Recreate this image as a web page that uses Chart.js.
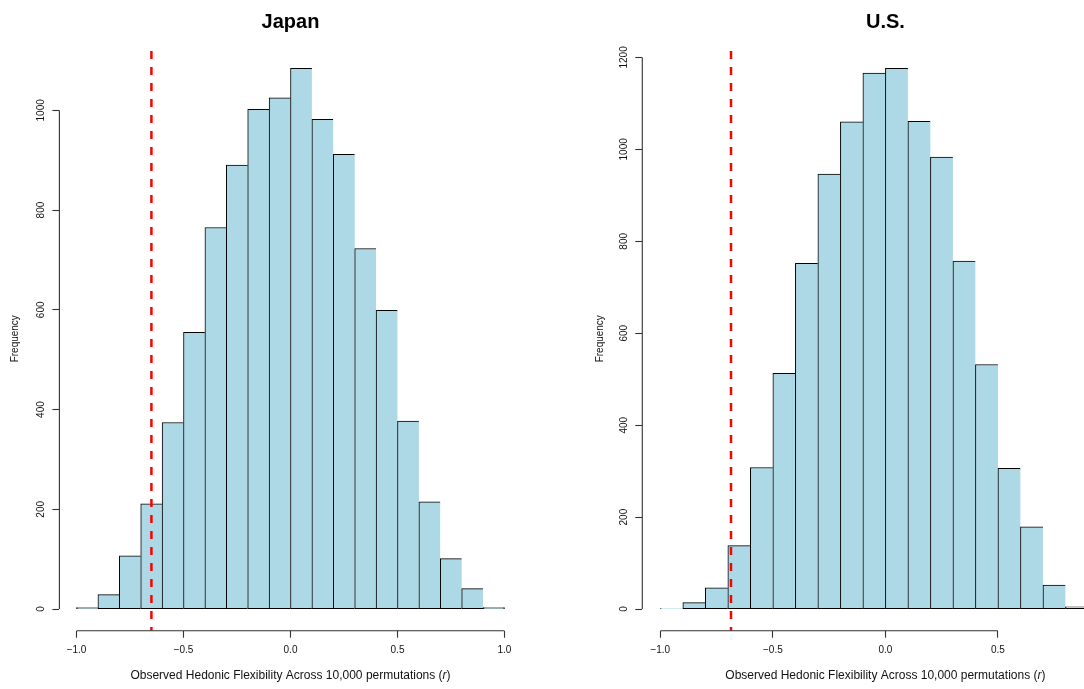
<!DOCTYPE html>
<html>
<head>
<meta charset="utf-8">
<script src="https://cdn.jsdelivr.net/npm/chart.js@4.4.1/dist/chart.umd.min.js"></script>
<style>
  html, body { margin: 0; padding: 0; width: 1084px; height: 689px; overflow: hidden; background: #ffffff; }
  .panel { position: absolute; top: 0; }
  canvas { display: block; }
</style>
</head>
<body>
<div class="panel" style="left:0px"><canvas id="japan" width="540" height="689"></canvas></div>
<div class="panel" style="left:583px"><canvas id="us" width="560" height="689"></canvas></div>
<script>
// Permutation histograms: bin midpoints (bins of width 0.1 from -1.0 to 1.0)
const binMids = [-0.95, -0.85, -0.75, -0.65, -0.55, -0.45, -0.35, -0.25, -0.15, -0.05,
                  0.05,  0.15,  0.25,  0.35,  0.45,  0.55,  0.65,  0.75,  0.85,  0.95];
const binWidth = 0.1;

// Counts per bin (10,000 permutations each)
const japanCounts = [3, 29, 107, 211, 374, 555, 765, 890, 1002, 1025,
                     1084, 982, 912, 723, 599, 377, 215, 101, 41, 3];
const usCounts = [1, 14, 46, 138, 308, 513, 752, 946, 1060, 1166,
                  1176, 1061, 983, 757, 532, 306, 179, 52, 5, 2];

// Observed correlations (dashed reference lines)
const japanObserved = -0.65;
const usObserved = -0.686;

// Axis tick values
const japanXTicks = [-1.0, -0.5, 0.0, 0.5, 1.0];
const usXTicks = [-1.0, -0.5, 0.0, 0.5];
const japanYTicks = [0, 200, 400, 600, 800, 1000];
const usYTicks = [0, 200, 400, 600, 800, 1000, 1200];

// Text
const xLabelParts = [
  { text: 'Observed Hedonic Flexibility Across 10,000 permutations (', style: 'normal' },
  { text: 'r', style: 'italic' },
  { text: ')', style: 'normal' }
];
const yLabel = 'Frequency';

const FONT = "'Liberation Sans', Arial, Helvetica, sans-serif";
const AXIS_COLOR = '#333333';
const TEXT_COLOR = '#111111';
Chart.defaults.font.family = FONT;

function fmtTick(v) {
  return v.toFixed(1).replace('-', '\u2212');
}

// Axis lines run only between the first and last tick, as in base R graphics
const axisSpan = {
  id: 'axisSpan',
  afterDraw(chart) {
    const { ctx, chartArea } = chart;
    const xs = chart.scales.x, ys = chart.scales.y;
    ctx.save();
    ctx.strokeStyle = AXIS_COLOR;
    ctx.lineWidth = 1.1;
    ctx.beginPath();
    ctx.moveTo(xs.getPixelForValue(xs.ticks[0].value), chartArea.bottom);
    ctx.lineTo(xs.getPixelForValue(xs.ticks[xs.ticks.length - 1].value), chartArea.bottom);
    ctx.moveTo(chartArea.left, ys.getPixelForValue(ys.ticks[0].value));
    ctx.lineTo(chartArea.left, ys.getPixelForValue(ys.ticks[ys.ticks.length - 1].value));
    ctx.stroke();
    ctx.restore();
  }
};

// x-axis title with an italic r
const xTitle = {
  id: 'xTitle',
  afterDraw(chart) {
    const { ctx } = chart;
    const xs = chart.scales.x;
    const size = 12;
    ctx.save();
    ctx.fillStyle = TEXT_COLOR;
    ctx.textBaseline = 'alphabetic';
    ctx.textAlign = 'left';
    const widths = xLabelParts.map(p => {
      ctx.font = (p.style === 'italic' ? 'italic ' : '') + size + 'px ' + FONT;
      return ctx.measureText(p.text).width;
    });
    const total = widths.reduce((a, b) => a + b, 0);
    let x = (xs.left + xs.right) / 2 - total / 2;
    const y = xs.top + 48.3;
    xLabelParts.forEach((p, i) => {
      ctx.font = (p.style === 'italic' ? 'italic ' : '') + size + 'px ' + FONT;
      ctx.fillText(p.text, x, y);
      x += widths[i];
    });
    ctx.restore();
  }
};

function makeHistogram(canvasId, cfg) {
  const n = cfg.counts.length;
  const lo = binMids[0] - binWidth / 2;
  const hi = binMids[n - 1] + binWidth / 2;
  const xPad = 0.04 * (hi - lo);
  const yMax = Math.max(...cfg.counts);
  const yMin = -0.04 * yMax;
  const yTop = 1.04 * yMax;

  return new Chart(document.getElementById(canvasId), {
    type: 'bar',
    data: {
      datasets: [
        {
          type: 'line',
          data: [{ x: cfg.observed, y: yMin }, { x: cfg.observed, y: yTop }],
          borderColor: '#ff0000',
          borderWidth: 2.5,
          borderDash: [8, 8],
          borderDashOffset: 4.3,
          pointRadius: 0,
          fill: false,
          order: 0
        },
        {
          type: 'bar',
          data: binMids.slice(0, n).map((m, i) => ({ x: m, y: cfg.counts[i] })),
          backgroundColor: '#ADD8E6',
          borderColor: '#000000',
          borderWidth: ctx => ({ top: 1, left: 1, bottom: 1, right: ctx.dataIndex === n - 1 ? 1 : 0 }),
          borderSkipped: false,
          barPercentage: 1,
          categoryPercentage: 1,
          order: 1
        }
      ]
    },
    options: {
      responsive: false,
      animation: false,
      devicePixelRatio: 1,
      layout: { padding: { left: 0, right: cfg.padRight, top: 0, bottom: 0 } },
      plugins: {
        legend: { display: false },
        tooltip: { enabled: false },
        title: {
          display: true,
          text: cfg.title,
          fullSize: false,
          color: '#000000',
          font: { family: FONT, size: 20, weight: 'bold', lineHeight: 1.2 },
          padding: { top: 10, bottom: 12.8 }
        }
      },
      scales: {
        x: {
          type: 'linear',
          min: lo - xPad,
          max: hi + xPad,
          offset: false,
          afterBuildTicks: s => { s.ticks = cfg.xTicks.map(v => ({ value: v })); },
          afterFit: s => { s.height = 58.3; },
          border: { display: false },
          grid: { offset: false, drawOnChartArea: false, drawTicks: true, tickLength: 7, tickColor: AXIS_COLOR, tickWidth: 1.1 },
          ticks: {
            autoSkip: false, maxRotation: 0, padding: 7,
            color: TEXT_COLOR, font: { family: FONT, size: 10 },
            callback: v => fmtTick(v)
          }
        },
        y: {
          type: 'linear',
          min: yMin,
          max: yTop,
          afterBuildTicks: s => { s.ticks = cfg.yTicks.map(v => ({ value: v })); },
          afterFit: s => { s.width = cfg.yWidth; },
          border: { display: false },
          grid: { offset: false, drawOnChartArea: false, drawTicks: true, tickLength: 7, tickColor: AXIS_COLOR, tickWidth: 1.1 },
          ticks: {
            minRotation: 90, maxRotation: 90, crossAlign: 'center', padding: 0,
            color: TEXT_COLOR, font: { family: FONT, size: 10 },
            callback: v => String(v)
          },
          title: {
            display: true, text: yLabel, color: TEXT_COLOR,
            font: { family: FONT, size: 10, lineHeight: 1.2 },
            padding: { top: cfg.yTitlePad, bottom: 0 }
          }
        }
      }
    },
    plugins: [axisSpan, xTitle]
  });
}

makeHistogram('japan', {
  title: 'Japan', counts: japanCounts, observed: japanObserved,
  xTicks: japanXTicks, yTicks: japanYTicks,
  yWidth: 59.4, padRight: 18.4, yTitlePad: 9.3
});

makeHistogram('us', {
  title: 'U.S.', counts: usCounts, observed: usObserved,
  xTicks: usXTicks, yTicks: usYTicks,
  yWidth: 59.3, padRight: 14.5, yTitlePad: 11
});
</script>
</body>
</html>
